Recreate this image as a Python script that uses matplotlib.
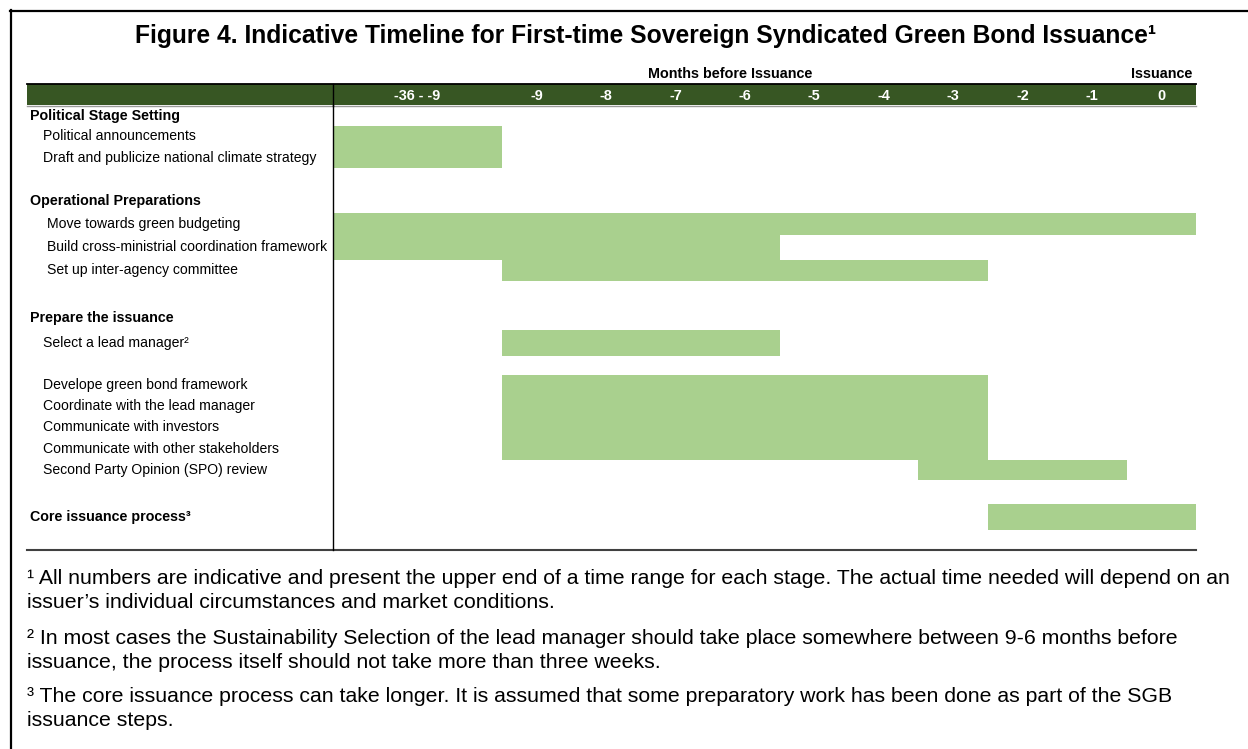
import matplotlib
matplotlib.use("Agg")
import matplotlib.pyplot as plt
from matplotlib.patches import Rectangle
from matplotlib.lines import Line2D
from matplotlib.transforms import blended_transform_factory

# ---------------- data ----------------
title = "Figure 4. Indicative Timeline for First-time Sovereign Syndicated Green Bond Issuance\u00b9"
axis_title = "Months before Issuance"
issuance_label = "Issuance"
columns = ["-36 - -9", "-9", "-8", "-7", "-6", "-5", "-4", "-3", "-2", "-1", "0"]
group_headers = ["Political Stage Setting", "Operational Preparations",
                 "Prepare the issuance", "Core issuance process\u00b3"]
tasks = ["Political announcements",
         "Draft and publicize national climate strategy",
         "Move towards green budgeting",
         "Build cross-ministrial coordination framework",
         "Set up inter-agency committee",
         "Select a lead manager\u00b2",
         "Develope green bond framework",
         "Coordinate with the lead manager",
         "Communicate with investors",
         "Communicate with other stakeholders",
         "Second Party Opinion (SPO) review",
         None]  # core issuance process bar (labelled by its group header)
task_start = ["-36 - -9", "-36 - -9", "-36 - -9", "-36 - -9", "-9", "-9",
              "-9", "-9", "-9", "-9", "-3", "-2"]
task_end = ["-36 - -9", "-36 - -9", "0", "-6", "-3", "-6",
            "-3", "-3", "-3", "-3", "-1", "0"]
footnote_lines = [
    "\u00b9 All numbers are indicative and present the upper end of a time range for each stage. The actual time needed will depend on an",
    "issuer\u2019s individual circumstances and market conditions.",
    "\u00b2 In most cases the Sustainability Selection of the lead manager should take place somewhere between 9-6 months before",
    "issuance, the process itself should not take more than three weeks.",
    "\u00b3 The core issuance process can take longer. It is assumed that some preparatory work has been done as part of the SGB",
    "issuance steps.",
]

# ---------------- layout (pixels) ----------------
W, H = 1248, 749
col_widths = [2.435] + [1.0] * 10
group_y = [116, 201, 318, 517]
row_top = [126, 147, 213, 235, 260, 330, 375, 396, 417, 438, 460, 504]
row_bot = [147, 168.5, 235, 260, 281, 356, 396, 417, 438, 460, 480, 530]
task_x = [43, 43, 47, 47, 47, 43, 43, 43, 43, 43, 43, None]
foot_y = [579, 603, 638, 662, 696, 720]

BAR = "#A9D08E"
HEAD = "#375623"
plt.rcParams["font.family"] = ["Liberation Sans", "DejaVu Sans"]


def fx(px):
    return px / W


def fy(py):
    return 1 - py / H


fig = plt.figure(figsize=(W / 100, H / 100), dpi=100)
fig.patch.set_facecolor("white")
renderer = fig.canvas.get_renderer()


def fit_size(s, target_px, weight="normal", base=10.0):
    t = fig.text(0, 0, s, fontsize=base, fontweight=weight)
    w = t.get_window_extent(renderer).width
    t.remove()
    return base * target_px / w


title_fs = fit_size(title, 1023, "bold")
label_fs = fit_size("Communicate with other stakeholders", 236)
group_fs = fit_size("Operational Preparations", 170, "bold")
axt_fs = fit_size(axis_title, 164, "bold")
col_fs = fit_size(columns[0], 46, "bold")
foot_fs = fit_size(footnote_lines[0], 1210)

# outer frame (extends beyond right/bottom of image)
fig.add_artist(Line2D([fx(11), fx(11)], [fy(10), fy(H + 5)], color="black", lw=1.6))
fig.add_artist(Line2D([fx(10), fx(W + 5)], [fy(11), fy(11)], color="black", lw=1.6))

fig.text(fx(646), fy(36), title, ha="center", va="center", fontsize=title_fs,
         fontweight="bold")

# gantt axes
ax = fig.add_axes([fx(333), fy(550), fx(1196) - fx(333), (550 - 105) / H])
ax.set_zorder(5)
ax.patch.set_visible(False)
edges = [0.0]
for w in col_widths:
    edges.append(edges[-1] + w)
left_of = {c: edges[i] for i, c in enumerate(columns)}
right_of = {c: edges[i + 1] for i, c in enumerate(columns)}
ax.set_xlim(0, edges[-1])
ax.set_ylim(550, 105)
for sp in ["top", "right", "bottom"]:
    ax.spines[sp].set_visible(False)
ax.spines["left"].set_linewidth(1.0)
ax.set_xticks([])
ax.set_yticks([])

starts = [left_of[s] for s in task_start]
widths = [right_of[e] - left_of[s] for s, e in zip(task_start, task_end)]
heights = [b - t for t, b in zip(row_top, row_bot)]
ax.barh(row_top, widths, height=heights, left=starts, align="edge",
        color=BAR, edgecolor="none")

# header band
fig.add_artist(Rectangle((fx(27), fy(105)), fx(1196) - fx(27), (105 - 84) / H,
                         facecolor=HEAD, edgecolor="none", zorder=1))
fig.add_artist(Line2D([fx(27), fx(1196)], [fy(84), fy(84)], color="black", lw=1.3, zorder=2))
fig.add_artist(Line2D([fx(27), fx(1196)], [fy(105.5), fy(105.5)], color="#9a9a9a", lw=1.0, zorder=2))
fig.add_artist(Line2D([fx(333), fx(333)], [fy(84), fy(106)], color="black", lw=1.0, zorder=2))
# bottom rule
fig.add_artist(Line2D([fx(27), fx(1196)], [fy(549.5), fy(549.5)], color="#404040", lw=1.5, zorder=2))

hdr_tr = blended_transform_factory(ax.transData, fig.transFigure)
for i, c in enumerate(columns):
    ax.text((edges[i] + edges[i + 1]) / 2, fy(96), c, transform=hdr_tr, ha="center",
            va="center", color="white", fontweight="bold", fontsize=col_fs)
ax.text((edges[0] + edges[-2]) / 2, fy(74), axis_title, transform=hdr_tr,
        ha="center", va="center", fontweight="bold", fontsize=axt_fs)
ax.text((edges[-2] + edges[-1]) / 2, fy(74), issuance_label, transform=hdr_tr,
        ha="center", va="center", fontweight="bold", fontsize=axt_fs)

lab_tr = blended_transform_factory(fig.transFigure, ax.transData)
for g, y in zip(group_headers, group_y):
    ax.text(fx(30), y, g, transform=lab_tr, ha="left", va="center",
            fontweight="bold", fontsize=group_fs, clip_on=False)
for t, x, a, b in zip(tasks, task_x, row_top, row_bot):
    if t is None:
        continue
    ax.text(fx(x), (a + b) / 2, t, transform=lab_tr, ha="left", va="center",
            fontsize=label_fs, clip_on=False)

for t, y in zip(footnote_lines, foot_y):
    fig.text(fx(27), fy(y), t, ha="left", va="center", fontsize=foot_fs)

fig.savefig("out.png", dpi=100, facecolor="white")
